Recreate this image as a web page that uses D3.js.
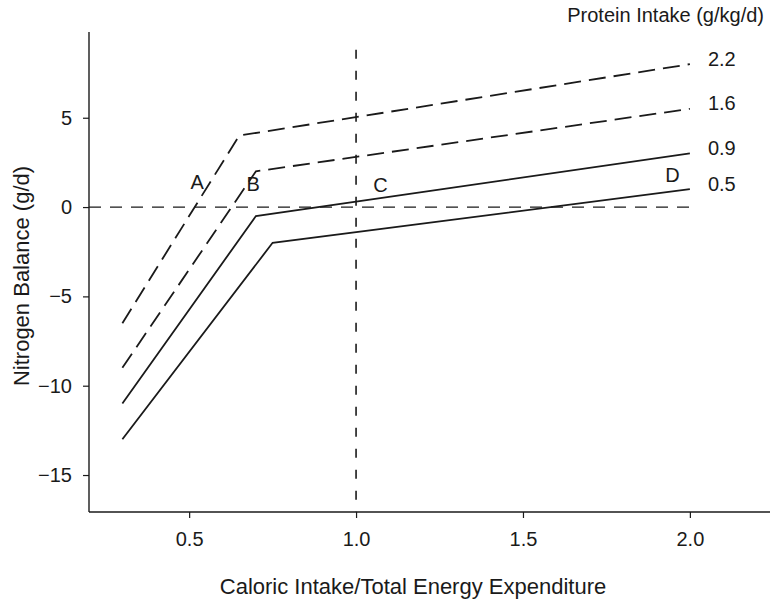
<!DOCTYPE html>
<html>
<head>
<meta charset="utf-8">
<script src="https://cdn.jsdelivr.net/npm/d3@7"></script>
<style>
  html, body { margin: 0; padding: 0; background: #fff; }
  svg { display: block; }
  text { font-family: "Liberation Sans", Arial, Helvetica, sans-serif; fill: #1a1a1a; }
</style>
</head>
<body>
<svg id="chart" width="771" height="602"></svg>
<script>
// ---- data ----
const proteinLevels = ["2.2", "1.6", "0.9", "0.5"];
const dashedSeries = [true, true, false, false];
const seriesX = [
  [0.3, 0.65, 2.0],
  [0.3, 0.70, 2.0],
  [0.3, 0.70, 2.0],
  [0.3, 0.75, 2.0]
];
const seriesY = [
  [-6.5, 4.0, 8.0],
  [-9.0, 2.0, 5.5],
  [-11.0, -0.5, 3.0],
  [-13.0, -2.0, 1.0]
];
const xTicks = [0.5, 1.0, 1.5, 2.0];
const xTickLabels = ["0.5", "1.0", "1.5", "2.0"];
const yTicks = [5, 0, -5, -10, -15];
const yTickLabels = ["5", "0", "\u22125", "\u221210", "\u221215"];
const pointLetters = ["A", "B", "C", "D"];
const pointLetterX = [0.524, 0.692, 1.073, 1.948];
const pointLetterY = [1.4, 1.29, 1.26, 1.79];
const refX = 1.0;
const refY = 0;
const xTitle = "Caloric Intake/Total Energy Expenditure";
const yTitle = "Nitrogen Balance (g/d)";
const legendTitle = "Protein Intake (g/kg/d)";

// ---- layout ----
const svg = d3.select("#chart");
const mLeft = 89, mRight = 770, mTop = 32, mBottom = 512;
const x = d3.scaleLinear().domain([0.2, 2.24]).range([mLeft, mRight]);
const y = d3.scaleLinear().domain([-17.07, 9.8]).range([mBottom, mTop]);
const ink = "#1a1a1a";

// axes
const xAxis = d3.axisBottom(x).tickValues(xTicks)
  .tickFormat((d, i) => xTickLabels[i]).tickSizeOuter(0).tickSize(6).tickPadding(14);
const yAxis = d3.axisLeft(y).tickValues(yTicks)
  .tickFormat((d, i) => yTickLabels[i]).tickSizeOuter(0).tickSize(6).tickPadding(11);

const gx = svg.append("g").attr("transform", `translate(0,${mBottom})`).call(xAxis);
const gy = svg.append("g").attr("transform", `translate(${mLeft},0)`).call(yAxis);
[gx, gy].forEach(g => {
  g.select(".domain").attr("stroke", ink).attr("stroke-width", 1.4);
  g.selectAll(".tick line").attr("stroke", ink).attr("stroke-width", 1.2);
  g.selectAll(".tick text").attr("font-size", 20).attr("fill", ink)
    .style("font-family", '"Liberation Sans", Arial, Helvetica, sans-serif');
});
gx.select(".domain").attr("d", `M${mLeft},0H${mRight}`);
gy.select(".domain").attr("d", `M0,${mTop}V${mBottom}`);

// reference lines
svg.append("line")
  .attr("x1", x(0.2)).attr("x2", x(2.0))
  .attr("y1", y(refY)).attr("y2", y(refY))
  .attr("stroke", ink).attr("stroke-width", 1.3).attr("stroke-dasharray", "12,9");
svg.append("line")
  .attr("x1", x(refX)).attr("x2", x(refX))
  .attr("y1", y(8.8)).attr("y2", y(-17.07))
  .attr("stroke", ink).attr("stroke-width", 1.6).attr("stroke-dasharray", "9,12");

// series lines
const line = d3.line().x(d => x(d[0])).y(d => y(d[1]));
proteinLevels.forEach((p, i) => {
  const pts = seriesX[i].map((xv, j) => [xv, seriesY[i][j]]);
  svg.append("path")
    .attr("d", line(pts))
    .attr("fill", "none")
    .attr("stroke", ink)
    .attr("stroke-width", 1.8)
    .attr("stroke-dasharray", dashedSeries[i] ? "17,8" : null);
  const last = pts[pts.length - 1];
  svg.append("text")
    .attr("x", x(last[0]) + 18)
    .attr("y", y(last[1]) - 5.5)
    .attr("dominant-baseline", "central")
    .attr("font-size", 20)
    .text(p);
});

// point letters
pointLetters.forEach((t, i) => {
  svg.append("text")
    .attr("x", x(pointLetterX[i]))
    .attr("y", y(pointLetterY[i]))
    .attr("text-anchor", "middle")
    .attr("dominant-baseline", "central")
    .attr("font-size", 20)
    .text(t);
});

// titles
svg.append("text")
  .attr("x", 764).attr("y", 15)
  .attr("text-anchor", "end").attr("dominant-baseline", "central")
  .attr("font-size", 20).text(legendTitle);
svg.append("text")
  .attr("x", 413).attr("y", 586)
  .attr("text-anchor", "middle").attr("dominant-baseline", "central")
  .attr("font-size", 22).text(xTitle);
svg.append("text")
  .attr("transform", `translate(21,276) rotate(-90)`)
  .attr("text-anchor", "middle").attr("dominant-baseline", "central")
  .attr("font-size", 22).text(yTitle);
</script>
</body>
</html>
